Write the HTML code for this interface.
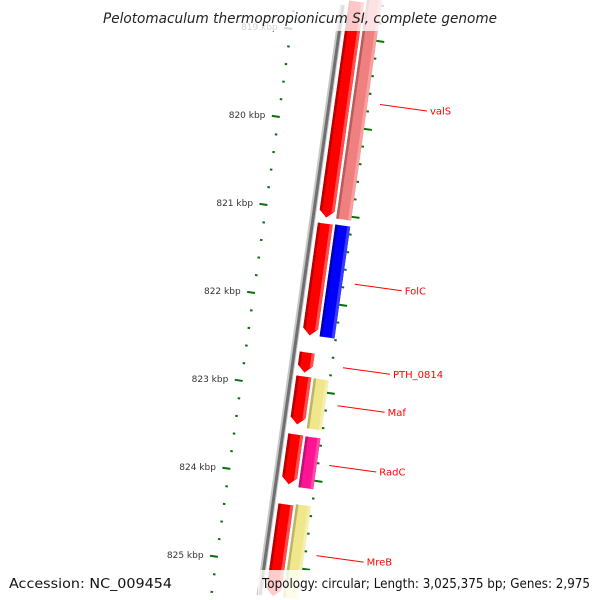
<!DOCTYPE html>
<html><head><meta charset="utf-8"><style>
html,body{margin:0;padding:0;background:#fff;width:600px;height:600px;overflow:hidden;}
svg{display:block;overflow:hidden;font-family:"DejaVu Sans","Liberation Sans",sans-serif;}
</style></head><body>
<svg id="map" width="600" height="600" viewBox="0 0 600 600">
<rect width="600" height="600" fill="#fff"/>
<g id="rot" transform="translate(300,300) rotate(8)"></g>
<g id="labels"></g>
<rect x="98" y="0" width="404" height="31" fill="#fff" fill-opacity="0.78"/>
<text x="300" y="23" text-anchor="middle" font-size="14" font-style="italic" fill="#222" textLength="394" lengthAdjust="spacingAndGlyphs">Pelotomaculum thermopropionicum SI, complete genome</text>
<rect x="258" y="570" width="342" height="30" fill="#fff" fill-opacity="0.8"/>
<text x="9" y="588" font-size="13" fill="#111" textLength="163" lengthAdjust="spacingAndGlyphs">Accession: NC_009454</text>
<text x="262" y="588" font-size="13" fill="#111" textLength="328" lengthAdjust="spacingAndGlyphs">Topology: circular; Length: 3,025,375 bp; Genes: 2,975</text>
</svg>
<script>
const innerStarts = [818340, 821100, 822566, 822838, 823496, 824292];
const innerEnds   = [821066, 822405, 822827, 823417, 824098, 825370];
const outerStarts = [818340, 821094, 822842, 823502, 824274];
const outerEnds   = [821060, 822400, 823444, 824114, 825400];
const outerColors = ['#f08080', '#0000ff', '#f0e68c', '#ff1493', '#f0e68c'];
const geneLabels = ['valS', 'FolC', 'PTH_0814', 'Maf', 'RadC', 'MreB'];
const labelPos = [819703, 821747, 822696, 823128, 823807, 824831];
const tickStart = 818000, tickEnd = 826400, tickStep = 200;
const kbpLabels = [819, 820, 821, 822, 823, 824, 825];

const NS = 'http://www.w3.org/2000/svg';
const rot = document.getElementById('rot');
const lab = document.getElementById('labels');
const PX_PER_KBP = 88.84, U0 = -178.4, BP0 = 820000;
function u(bp){ return (bp - BP0) / 1000 * PX_PER_KBP + U0; }
const A = 8 * Math.PI / 180, C = Math.cos(A), S = Math.sin(A);
function scr(v, uu){ return [300 + v*C - uu*S, 300 + v*S + uu*C]; }
function mk(tag, attrs, parent){ const e = document.createElementNS(NS, tag); for (const k in attrs) e.setAttribute(k, attrs[k]); parent.appendChild(e); return e; }
function clampU(uu, v){ const lo = (-300 - v*S) / C + 0.5, hi = (300 - v*S) / C - 0.5; return Math.max(lo, Math.min(hi, uu)); }

let bb = mk('rect', {x: -2, y: -298, width: 6, height: 596, fill: '#c8c8c8'}, rot);


let bb2 = mk('rect', {x: 0, y: -298, width: 3, height: 596, fill: '#707070'}, rot);



for (let bp = tickStart; bp <= tickEnd; bp += tickStep) {
  const uu = u(bp), major = (bp % 1000 === 0);
  const pi = scr(-50, uu), po = scr(43, uu);
  if (pi[1] >= 1 && pi[1] <= 599) {
    const t1 = mk('line', {x1: major ? -53.5 : -48, x2: -45.5, y1: uu, y2: uu, stroke: '#0b700b', 'stroke-width': 2}, rot);
    
    
  }
  if (po[1] >= 1 && po[1] <= 599) {
    const t2 = mk('line', {x1: 39.5, x2: major ? 47.5 : 42, y1: uu, y2: uu, stroke: '#0b700b', 'stroke-width': 2}, rot);
    
    
  }
}
kbpLabels.forEach(k => {
  const p = scr(-60, u(k * 1000));
  const t = mk('text', {x: p[0], y: p[1] + 3, 'text-anchor': 'end', 'font-size': 9, fill: '#333'}, lab);
  t.textContent = k + ' kbp';
  
  
});

function shade(c){ return {'#ff0000':['#b80000','#ff5050'], '#f08080':['#b85c5c','#f6a0a0'], '#0000ff':['#0000b0','#3a3aff'], '#f0e68c':['#bdb46a','#f6eeae'], '#ff1493':['#c0107a','#ff4aaa']}[c]; }

innerStarts.forEach((s, i) => {
  const v0 = 7, v1 = 22, vm = 14.5, ah = 7;
  const a = clampU(u(s) + 1.5, v0), b = clampU(u(innerEnds[i]) - 1.5, v1);
  const g = mk('g', {}, rot);
  
  
  mk('polygon', {points: `${v0},${a} ${v1},${a} ${v1},${b-ah} ${vm},${b} ${v0},${b-ah}`, fill: '#ff0000'}, g);
  const sh = shade('#ff0000');
  mk('polygon', {points: `${v0},${a} ${v0+2.5},${a} ${v0+2.5},${b-ah+2} ${v0},${b-ah}`, fill: sh[0]}, g);
  mk('polygon', {points: `${v1-3},${a} ${v1},${a} ${v1},${b-ah} ${v1-3},${b-ah+1.5}`, fill: sh[1]}, g);
});
outerStarts.forEach((s, i) => {
  const v0 = 24.5, v1 = 39.5, c = outerColors[i], sh = shade(c);
  const a = clampU(u(s) + 1.5, v1), b = clampU(u(outerEnds[i]) - 1.5, v1);
  const g = mk('g', {}, rot);
  
  
  mk('rect', {x: v0, y: a, width: v1 - v0, height: b - a, fill: c}, g);
  mk('rect', {x: v0, y: a, width: 2.5, height: b - a, fill: sh[0]}, g);
  mk('rect', {x: v1 - 3, y: a, width: 3, height: b - a, fill: sh[1]}, g);
});

geneLabels.forEach((name, i) => {
  const p = scr(52, u(labelPos[i]));
  const l = mk('line', {x1: p[0], y1: p[1], x2: p[0] + 47, y2: p[1] + 6.5, stroke: '#ff0000', 'stroke-width': 1}, lab);
  
  
  const t = mk('text', {x: p[0] + 50, y: p[1] + 10, 'font-size': 10, fill: '#ff0000'}, lab);
  t.textContent = name;
  
  
});
</script>
</body></html>
